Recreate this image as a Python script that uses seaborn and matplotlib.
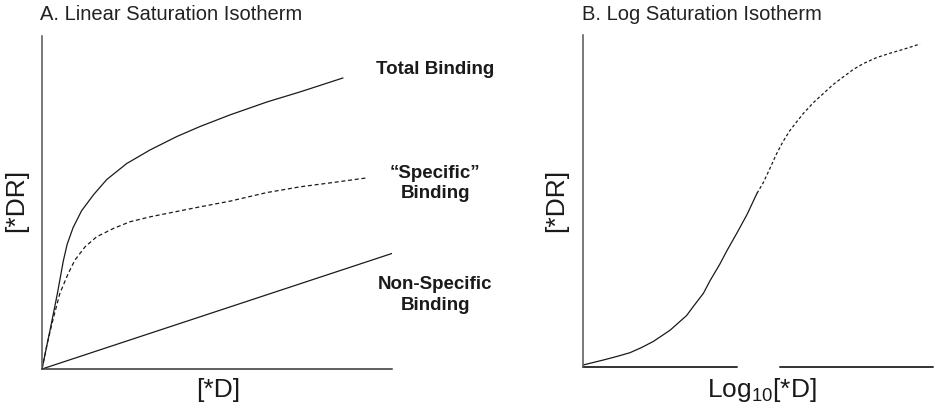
import matplotlib
matplotlib.use("Agg")
import matplotlib.pyplot as plt
import seaborn as sns
import pandas as pd

# ---- Panel A: linear saturation isotherm ([*D] vs [*DR], arbitrary units) ----
total_x = [0.0, 0.25, 0.44, 0.61, 0.72, 0.89, 1.13, 1.47, 1.85, 2.42, 3.09, 3.85, 4.51,
           5.37, 6.43, 7.37, 8.60]
total_y = [0.0, 1.27, 2.27, 3.25, 3.75, 4.25, 4.75, 5.23, 5.69, 6.17, 6.58, 6.98, 7.28,
           7.63, 8.02, 8.32, 8.74]

specific_x = [0.0, 0.15, 0.31, 0.51, 0.75, 0.94, 1.23, 1.56, 2.04, 2.51, 3.09, 3.66, 4.42,
              5.37, 6.43, 7.37, 8.31, 9.29]
specific_y = [0.0, 0.77, 1.47, 2.27, 2.87, 3.27, 3.67, 3.97, 4.22, 4.42, 4.57, 4.69, 4.85,
              5.04, 5.30, 5.47, 5.60, 5.74]

nonspecific_x = [0.0, 10.0]
nonspecific_y = [0.0, 3.47]

# ---- Panel B: log saturation isotherm (log10[*D] vs [*DR]) ----
log_solid_x = [0.0, 0.58, 0.94, 1.34, 1.66, 2.01, 2.49, 2.96, 3.15, 3.44, 3.63, 3.91, 4.11,
               4.40, 4.69, 4.97]
log_solid_y = [0.06, 0.21, 0.31, 0.43, 0.58, 0.77, 1.11, 1.55, 1.82, 2.22, 2.60, 3.10, 3.50,
               4.04, 4.60, 5.23]

log_dash_x = [4.97, 5.15, 5.34, 5.53, 5.72, 5.91, 6.11, 6.29, 6.58, 6.87, 7.15, 7.44, 7.72,
              8.01, 8.39, 8.77, 9.25, 9.63]
log_dash_y = [5.23, 5.55, 5.98, 6.42, 6.80, 7.12, 7.39, 7.63, 7.96, 8.24, 8.51, 8.74, 8.96,
              9.14, 9.32, 9.45, 9.60, 9.73]

curve_labels = ["Total Binding", "\u201cSpecific\u201d\nBinding", "Non-Specific\nBinding"]
label_x = [11.23, 11.23, 11.23]
label_y = [8.98, 5.56, 2.22]

sns.set_style("white")
plt.rcParams["font.family"] = ["Liberation Sans", "DejaVu Sans"]
plt.rcParams["mathtext.default"] = "regular"

fig = plt.figure(figsize=(9.34, 4.05), dpi=100)
ax_a = fig.add_axes([42 / 934, 36 / 405, 350 / 934, 333 / 405])
ax_b = fig.add_axes([583 / 934, 38 / 405, 350 / 934, 332 / 405])

ink = "#1a1a1a"
line_kw = dict(color=ink, linewidth=0.9, estimator=None, sort=False, legend=False)

sns.lineplot(data=pd.DataFrame({"x": total_x, "y": total_y}), x="x", y="y", ax=ax_a, **line_kw)
sns.lineplot(data=pd.DataFrame({"x": specific_x, "y": specific_y}), x="x", y="y", ax=ax_a,
             linestyle=(0, (3.2, 2.2)), **line_kw)
sns.lineplot(data=pd.DataFrame({"x": nonspecific_x, "y": nonspecific_y}), x="x", y="y", ax=ax_a, **line_kw)

sns.lineplot(data=pd.DataFrame({"x": log_solid_x, "y": log_solid_y}), x="x", y="y", ax=ax_b, **line_kw)
sns.lineplot(data=pd.DataFrame({"x": log_dash_x, "y": log_dash_y}), x="x", y="y", ax=ax_b,
             linestyle=(0, (2.4, 1.9)), **line_kw)

for ax in (ax_a, ax_b):
    ax.set_xlim(0, 10)
    ax.set_ylim(0, 10)
    ax.set_xticks([])
    ax.set_yticks([])
    for side in ("top", "right"):
        ax.spines[side].set_visible(False)
    ax.spines["left"].set_color("#555555")
    ax.spines["left"].set_linewidth(1.1)
    ax.spines["bottom"].set_color("#333333")
    ax.spines["bottom"].set_linewidth(1.1)

# broken baseline in panel B
ax_b.spines["bottom"].set_visible(False)
ax_b.axhline(0, xmin=0, xmax=(737 - 583) / 350, color="#333333", linewidth=1.4, clip_on=False)
ax_b.axhline(0, xmin=(780 - 583) / 350, xmax=1, color="#333333", linewidth=1.4, clip_on=False)

# axis labels
ax_a.set_xlabel("[*D]", fontsize=19, color=ink, va="center")
ax_a.xaxis.set_label_coords((218 - 42) / 350, (369 - 390) / 333)
ax_a.set_ylabel("[*DR]", fontsize=19, color=ink, va="center")
ax_a.yaxis.set_label_coords((16 - 42) / 350, (369 - 200) / 333)

ax_b.set_xlabel("Log$_{10}$[*D]", fontsize=19, color=ink, va="center")
ax_b.xaxis.set_label_coords((762 - 583) / 350, (367 - 390) / 332)
ax_b.set_ylabel("[*DR]", fontsize=19, color=ink, va="center")
ax_b.yaxis.set_label_coords((556 - 583) / 350, (367 - 200) / 332)

# curve names beside panel A
for text, tx, ty in zip(curve_labels, label_x, label_y):
    ax_a.text(tx, ty, text, ha="center", va="center", fontsize=13.5, fontweight="bold",
              color=ink, linespacing=1.25, clip_on=False)

# panel titles
fig.text(40 / 934, 1 - 15 / 405, "A. Linear Saturation Isotherm", fontsize=14.5, color="#222222",
         ha="left", va="center")
fig.text(582 / 934, 1 - 15 / 405, "B. Log Saturation Isotherm", fontsize=14.5, color="#222222",
         ha="left", va="center")

fig.savefig("out.png", dpi=100, facecolor="white")
